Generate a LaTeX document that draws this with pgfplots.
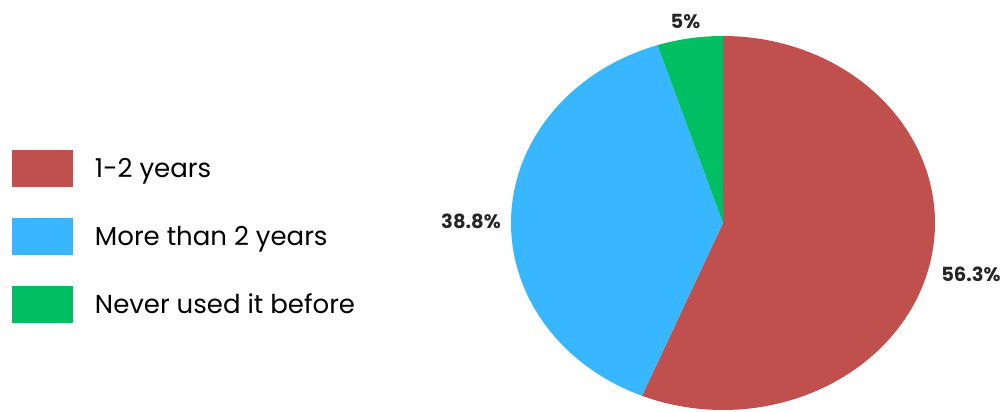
\documentclass[border=0pt]{standalone}
\usepackage{fontspec}
\setmainfont{Poppins}
\newfontfamily\labfont{Poppins}
\usepackage{pgfplots}
\pgfplotsset{compat=1.18}
\definecolor{pieRed}{HTML}{C0504D}
\definecolor{pieBlue}{HTML}{38B6FF}
\definecolor{pieGreen}{HTML}{00BF63}
% data (percent)
\def\vA{56.3}% 1-2 years
\def\vB{38.8}% More than 2 years
\def\vC{5}%    Never used it before
\pgfmathsetmacro{\tot}{\vA+\vB+\vC}
\pgfmathsetmacro{\aA}{90-\vA/\tot*360}
\pgfmathsetmacro{\aB}{\aA-\vB/\tot*360}
\pgfmathsetmacro{\aC}{\aB-\vC/\tot*360}
\def\cx{723}\def\cy{189}\def\rx{212}\def\ry{187}
\begin{document}
\begin{tikzpicture}
\begin{axis}[
  scale only axis, width=1004pt, height=412pt,
  xmin=0, xmax=1004, ymin=0, ymax=412,
  hide axis, clip=false,
  legend style={at={(axis description cs:0.01195,0.6359)}, anchor=north west,
    draw=none, fill=none, inner sep=0pt, outer sep=0pt, row sep=31pt,
    column sep=22pt,
    nodes={inner sep=0pt, outer sep=0pt},
    font=\fontsize{26}{30}\selectfont},
  legend cell align=left,
  legend image code/.code={\fill[#1] (0pt,-18.5pt) rectangle (61pt,18.5pt);},
]
\path (axis cs:0,0) rectangle (axis cs:1004,412);
\addplot[draw=none, fill=pieRed, domain=\aA:90, samples=150, variable=\t]
  ({\cx+\rx*cos(t)}, {\cy+\ry*sin(t)}) -- (axis cs:\cx,\cy) -- cycle;
\addlegendentry{1-2 years}
\addplot[draw=none, fill=pieBlue, domain=\aB:\aA, samples=120, variable=\t]
  ({\cx+\rx*cos(t)}, {\cy+\ry*sin(t)}) -- (axis cs:\cx,\cy) -- cycle;
\addlegendentry{More than 2 years}
\addplot[draw=none, fill=pieGreen, domain=\aC:\aB, samples=30, variable=\t]
  ({\cx+\rx*cos(t)}, {\cy+\ry*sin(t)}) -- (axis cs:\cx,\cy) -- cycle;
\addlegendentry{Never used it before}
\node[font=\labfont\bfseries\fontsize{19.5}{22}\selectfont, text=black!85] at (axis cs:971,137.5) {56.3\%};
\node[font=\labfont\bfseries\fontsize{19.5}{22}\selectfont, text=black!85] at (axis cs:471,190.5) {38.8\%};
\node[font=\labfont\bfseries\fontsize{19.5}{22}\selectfont, text=black!85] at (axis cs:685.5,390.5) {5\%};
\end{axis}
\end{tikzpicture}
\end{document}
